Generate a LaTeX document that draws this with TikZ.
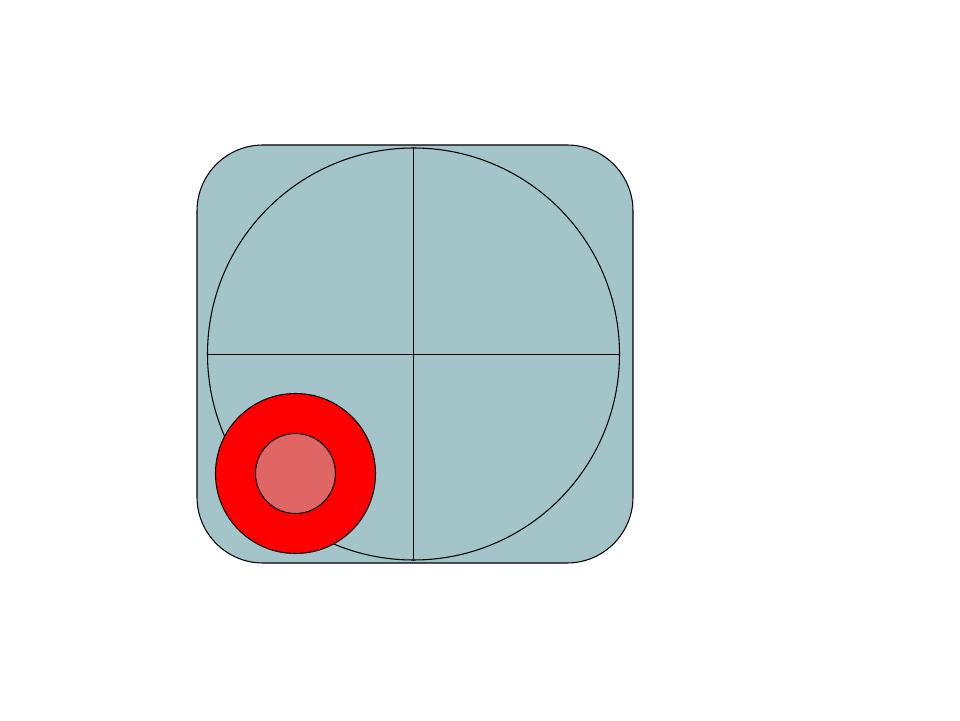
\documentclass[tikz,border=0pt]{standalone}
\usetikzlibrary{positioning}

\definecolor{panelgray}{HTML}{A3C4C9}
\definecolor{knobred}{HTML}{FF0000}
\definecolor{knobpink}{HTML}{E06666}

\begin{document}
\begin{tikzpicture}[
    line width=0.6pt,
    panel/.style={draw=black, fill=panelgray, rounded corners=1.32cm,
                  minimum width=8.72cm, minimum height=8.36cm, inner sep=0pt},
    dial/.style={draw=black, circle, minimum size=8.24cm, inner sep=0pt},
    crosshair/.style={draw=black, line width=0.45pt},
    knob/.style={draw=black, circle, fill=knobred, minimum size=3.2cm, inner sep=0pt},
    knobcap/.style={draw=black, circle, fill=knobpink, minimum size=1.6cm, inner sep=0pt}
]
    \useasboundingbox (0,0) rectangle (19.2,14.4);

    \node[panel] (panel) at (8.3,7.32) {};
    \node[dial] (dial) at (8.27,7.32) {};
    \draw[crosshair] (dial.north) -- (dial.south);
    \draw[crosshair] (dial.west) -- (dial.east);

    \node[knob] (knob) at (5.91,4.93) {};
    \node[knobcap] (cap) at (knob.center) {};
\end{tikzpicture}
\end{document}
